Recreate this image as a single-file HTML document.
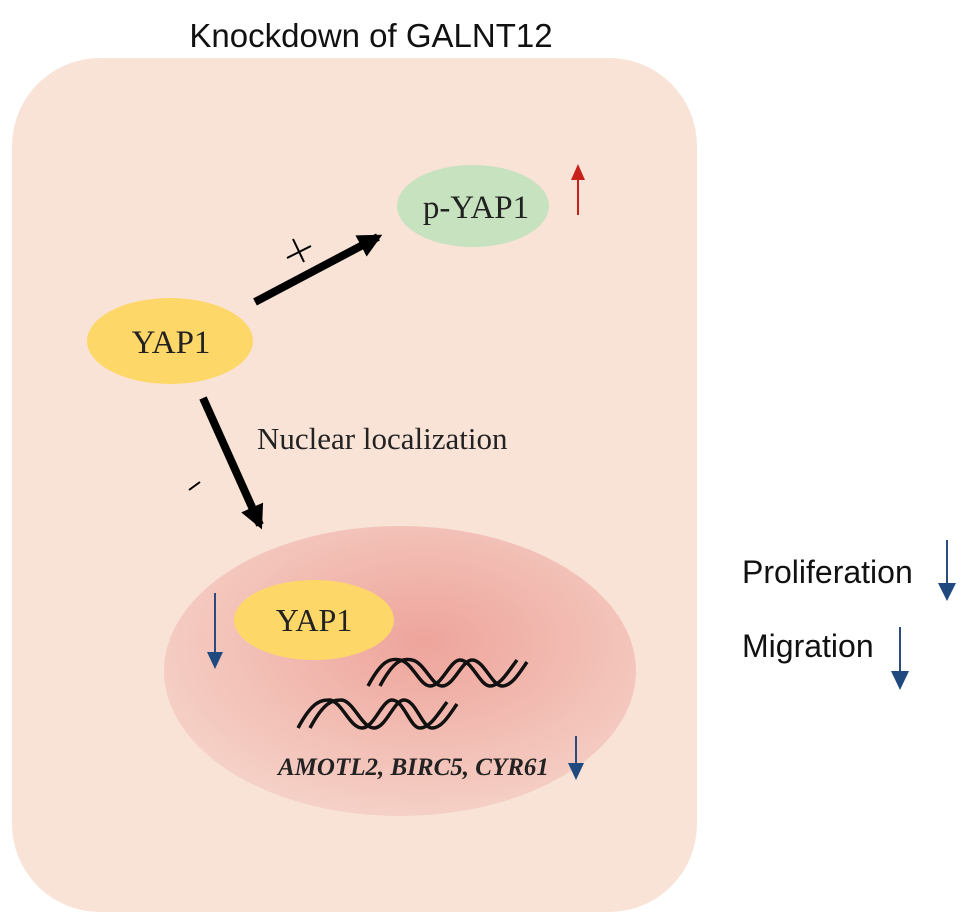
<!DOCTYPE html>
<html><head><meta charset="utf-8"><style>html,body{margin:0;padding:0;background:#fff}svg{display:block}</style></head>
<body>
<svg width="969" height="924" viewBox="0 0 969 924" xmlns="http://www.w3.org/2000/svg">
<defs>
<radialGradient id="nuc" cx="0.55" cy="0.4" r="0.6">
<stop offset="0" stop-color="#eea49b"/>
<stop offset="1" stop-color="#f5d0c6"/>
</radialGradient>
<marker id="ab" viewBox="0 0 10 10" refX="8" refY="5" markerWidth="3" markerHeight="3" orient="auto"><path d="M0,0 L10,5 L0,10 z" fill="#000"/></marker>
</defs>
<text x="371" y="47" text-anchor="middle" font-family="Liberation Sans, sans-serif" font-size="33" fill="#111">Knockdown of GALNT12</text>
<rect x="12" y="58" width="685" height="854" rx="88" fill="#f9e3d7"/>
<ellipse cx="400" cy="671" rx="236" ry="145" fill="url(#nuc)"/>
<ellipse cx="170" cy="341" rx="83" ry="43" fill="#fdd767"/>
<text x="171" y="353" text-anchor="middle" font-family="Liberation Serif, serif" font-size="33" fill="#222">YAP1</text>
<ellipse cx="473" cy="206" rx="76" ry="41" fill="#c6e2bf"/>
<text x="476" y="218" text-anchor="middle" font-family="Liberation Serif, serif" font-size="33" fill="#222">p-YAP1</text>
<line x1="578" y1="215" x2="578" y2="178" stroke="#c8201b" stroke-width="2"/>
<path d="M571,180 L578,164 L585,180 z" fill="#c8201b"/>
<line x1="255" y1="302" x2="378" y2="237" stroke="#000" stroke-width="8" marker-end="url(#ab)"/>
<line x1="293" y1="239" x2="304" y2="262" stroke="#000" stroke-width="2"/>
<line x1="287" y1="258" x2="311" y2="246" stroke="#000" stroke-width="2"/>
<line x1="203" y1="398" x2="260" y2="525" stroke="#000" stroke-width="8" marker-end="url(#ab)"/>
<line x1="189" y1="490" x2="200" y2="482" stroke="#000" stroke-width="2"/>
<text x="257" y="449" font-family="Liberation Serif, serif" font-size="31" fill="#222">Nuclear localization</text>
<ellipse cx="314" cy="620" rx="80" ry="40" fill="#fdd767"/>
<text x="314" y="631" text-anchor="middle" font-family="Liberation Serif, serif" font-size="32" fill="#222">YAP1</text>
<line x1="215" y1="593" x2="215" y2="655" stroke="#2b4a7e" stroke-width="2"/>
<path d="M207,652 L215,669 L223,652 z" fill="#1f4a80"/>
<g fill="none" stroke="#111" stroke-width="3.5">
<path d="M368,686 C382,660 390,658 400,660 C412,662 420,686 430,686 C442,686 450,660 460,660 C472,660 480,686 490,686 C500,686 508,672 517,660"/>
<path d="M380,686 C394,660 402,658 412,660 C424,662 432,686 442,686 C454,686 462,660 472,660 C484,660 492,686 502,686 C512,686 520,672 527,662"/>
<path d="M298,728 C312,702 320,700 330,700 C342,702 350,728 362,728 C374,728 382,700 392,700 C404,700 410,728 420,728 C430,728 438,714 447,702"/>
<path d="M310,728 C324,702 332,700 342,700 C354,702 362,728 374,728 C386,728 394,700 404,700 C416,700 422,728 432,728 C442,728 450,714 457,704"/>
</g>
<text x="278" y="775" font-family="Liberation Serif, serif" font-size="25" font-style="italic" font-weight="bold" fill="#222">AMOTL2, BIRC5, CYR61</text>
<line x1="576" y1="736" x2="576" y2="766" stroke="#2b4a7e" stroke-width="2"/>
<path d="M568,763 L576,780 L584,763 z" fill="#1f4a80"/>
<text x="742" y="583" font-family="Liberation Sans, sans-serif" font-size="32" fill="#111">Proliferation</text>
<line x1="947" y1="540" x2="947" y2="586" stroke="#2b4a7e" stroke-width="2"/>
<path d="M938,583 L947,601 L956,583 z" fill="#1f4a80"/>
<text x="742" y="657" font-family="Liberation Sans, sans-serif" font-size="32" fill="#111">Migration</text>
<line x1="900" y1="627" x2="900" y2="674" stroke="#2b4a7e" stroke-width="2"/>
<path d="M891,671 L900,690 L909,671 z" fill="#1f4a80"/>
</svg>
</body></html>
